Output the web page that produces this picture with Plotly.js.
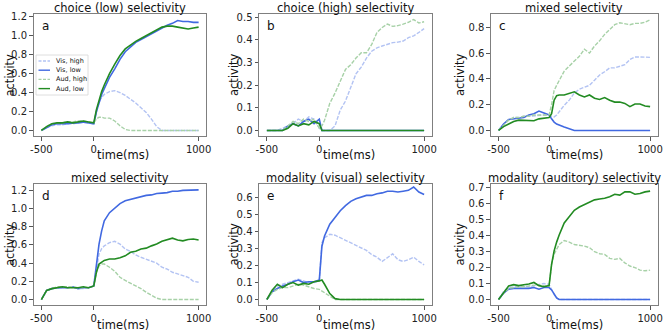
<!DOCTYPE html>
<html>
<head>
<meta charset="utf-8">
<script src="https://cdn.plot.ly/plotly-3.0.1.min.js"></script>
<style>
  body { margin: 0; background: #fff; }
  #chart { width: 665px; height: 334px; }
</style>
</head>
<body>
<div id="chart"></div>
<script>
// time axis (ms), shared by every panel
const timeMs = [-500, -450, -400, -350, -300, -250, -200, -150, -100, -50, 0, 25, 50, 75,
  100, 150, 200, 250, 300, 350, 400, 450, 500, 550, 600, 650, 700, 750, 800, 850, 900, 950, 1000];

const seriesNames = ['Vis, high', 'Vis, low', 'Aud, high', 'Aud, low'];
const xTickVals = [-500, 0, 1000];
const xTickText = ['-500', '0', '1000'];

// a: choice (low) selectivity
const visHighA = [0, 0.03, 0.05, 0.06, 0.06, 0.07, 0.07, 0.08, 0.08, 0.08, 0.07, 0.2, 0.3, 0.35,
  0.38, 0.41, 0.42, 0.4, 0.37, 0.33, 0.29, 0.24, 0.19, 0.12, 0.04, 0, 0, 0, 0, 0, 0, 0, 0];
const visLowA = [0, 0.03, 0.06, 0.07, 0.07, 0.07, 0.08, 0.08, 0.09, 0.08, 0.07, 0.2, 0.3, 0.38,
  0.44, 0.56, 0.65, 0.75, 0.83, 0.88, 0.93, 0.96, 0.99, 1.02, 1.05, 1.08, 1.11, 1.13, 1.16, 1.15, 1.15, 1.14, 1.14];
const audHighA = [0, 0.04, 0.07, 0.08, 0.08, 0.09, 0.09, 0.1, 0.1, 0.09, 0.08, 0.12, 0.14, 0.14,
  0.13, 0.13, 0.1, 0.05, 0.01, 0, 0, 0, 0, 0, 0, 0, 0, 0, 0, 0, 0, 0, 0];
const audLowA = [0, 0.04, 0.07, 0.08, 0.08, 0.09, 0.08, 0.09, 0.1, 0.09, 0.08, 0.22, 0.32, 0.41,
  0.48, 0.6, 0.7, 0.79, 0.86, 0.9, 0.94, 0.97, 1.0, 1.03, 1.06, 1.09, 1.1, 1.1, 1.09, 1.08, 1.07, 1.08, 1.09];

// b: choice (high) selectivity
const visHighB = [0, 0, 0, 0.01, 0.02, 0.03, 0.05, 0.04, 0.06, 0.05, 0.01, 0, 0, 0,
  0, 0.02, 0.09, 0.13, 0.19, 0.25, 0.28, 0.32, 0.35, 0.365, 0.373, 0.38, 0.388, 0.39, 0.395, 0.41, 0.418, 0.433, 0.45];
const visLowB = [0, 0, 0, 0, 0.02, 0.03, 0.02, 0.04, 0.05, 0.03, 0.05, 0, 0, 0,
  0, 0, 0, 0, 0, 0, 0, 0, 0, 0, 0, 0, 0, 0, 0, 0, 0, 0, 0];
const audHighB = [0, 0, 0, 0, 0.02, 0.04, 0.03, 0.05, 0.04, 0.05, 0.01, 0.02, 0.045, 0.08,
  0.12, 0.165, 0.22, 0.27, 0.29, 0.32, 0.343, 0.343, 0.38, 0.433, 0.455, 0.47, 0.46, 0.463, 0.47, 0.478, 0.49, 0.475, 0.48];
const audLowB = [0, 0, 0, 0, 0.01, 0.03, 0.02, 0.03, 0.025, 0.04, 0.03, 0, 0, 0,
  0, 0, 0, 0, 0, 0, 0, 0, 0, 0, 0, 0, 0, 0, 0, 0, 0, 0, 0];

// c: mixed selectivity
const visHighC = [0, 0.05, 0.08, 0.1, 0.1, 0.11, 0.11, 0.115, 0.12, 0.12, 0.115, 0.11, 0.105, 0.12,
  0.145, 0.195, 0.235, 0.29, 0.32, 0.335, 0.35, 0.39, 0.43, 0.455, 0.485, 0.485, 0.5, 0.51, 0.55, 0.57, 0.57, 0.57, 0.567];
const visLowC = [0, 0.05, 0.085, 0.09, 0.09, 0.1, 0.12, 0.13, 0.15, 0.135, 0.12, 0.09, 0.065, 0.05,
  0.04, 0.026, 0.013, 0, 0, 0, 0, 0, 0, 0, 0, 0, 0, 0, 0, 0, 0, 0, 0];
const audHighC = [0, 0.04, 0.08, 0.1, 0.1, 0.11, 0.11, 0.12, 0.12, 0.12, 0.12, 0.2, 0.31, 0.35,
  0.39, 0.46, 0.5, 0.535, 0.575, 0.63, 0.6, 0.655, 0.695, 0.745, 0.785, 0.82, 0.835, 0.83, 0.82, 0.83, 0.83, 0.84, 0.857];
const audLowC = [0, 0.03, 0.05, 0.07, 0.08, 0.08, 0.08, 0.075, 0.09, 0.095, 0.1, 0.13, 0.235, 0.27,
  0.275, 0.275, 0.29, 0.3, 0.275, 0.26, 0.275, 0.25, 0.24, 0.255, 0.235, 0.22, 0.22, 0.21, 0.185, 0.205, 0.205, 0.19, 0.185];

// d: mixed selectivity
const visHighD = [0, 0.1, 0.12, 0.13, 0.13, 0.14, 0.13, 0.12, 0.12, 0.13, 0.15, 0.35, 0.5, 0.56,
  0.59, 0.625, 0.64, 0.61, 0.555, 0.53, 0.49, 0.465, 0.445, 0.425, 0.4, 0.355, 0.335, 0.3, 0.28, 0.26, 0.245, 0.2, 0.19];
const visLowD = [0, 0.1, 0.12, 0.13, 0.13, 0.13, 0.14, 0.12, 0.13, 0.13, 0.15, 0.39, 0.61, 0.755,
  0.865, 0.955, 1.01, 1.055, 1.085, 1.1, 1.12, 1.13, 1.145, 1.15, 1.165, 1.17, 1.175, 1.19, 1.19, 1.2, 1.2, 1.205, 1.205];
const audHighD = [0, 0.1, 0.12, 0.14, 0.14, 0.14, 0.14, 0.13, 0.13, 0.13, 0.15, 0.3, 0.37, 0.39,
  0.39, 0.355, 0.31, 0.245, 0.21, 0.18, 0.155, 0.12, 0.08, 0.045, 0.015, 0, 0, 0, 0, 0, 0, 0, 0];
const audLowD = [0, 0.1, 0.12, 0.13, 0.14, 0.13, 0.13, 0.13, 0.14, 0.13, 0.15, 0.3, 0.39, 0.41,
  0.43, 0.445, 0.445, 0.46, 0.48, 0.52, 0.53, 0.555, 0.565, 0.59, 0.61, 0.64, 0.655, 0.675, 0.655, 0.645, 0.66, 0.665, 0.655];

// e: modality (visual) selectivity
const visHighE = [0, 0.05, 0.08, 0.09, 0.1, 0.11, 0.12, 0.11, 0.1, 0.1, 0.11, 0.335, 0.365, 0.375,
  0.385, 0.38, 0.365, 0.35, 0.335, 0.32, 0.305, 0.29, 0.265, 0.25, 0.225, 0.245, 0.27, 0.235, 0.225, 0.235, 0.25, 0.225, 0.205];
const visLowE = [0, 0.045, 0.065, 0.08, 0.09, 0.105, 0.115, 0.1, 0.105, 0.105, 0.115, 0.315, 0.375, 0.41,
  0.445, 0.485, 0.525, 0.555, 0.58, 0.595, 0.605, 0.615, 0.615, 0.625, 0.63, 0.64, 0.64, 0.635, 0.64, 0.645, 0.665, 0.635, 0.62];
const audHighE = [0, 0.04, 0.06, 0.07, 0.07, 0.08, 0.09, 0.085, 0.075, 0.065, 0.06, 0.05, 0.04, 0.03,
  0.015, 0, 0, 0, 0, 0, 0, 0, 0, 0, 0, 0, 0, 0, 0, 0, 0, 0, 0];
const audLowE = [0, 0.055, 0.09, 0.07, 0.09, 0.1, 0.085, 0.095, 0.09, 0.105, 0.11, 0.115, 0.09, 0.06,
  0.035, 0.005, 0, 0, 0, 0, 0, 0, 0, 0, 0, 0, 0, 0, 0, 0, 0, 0, 0];

// f: modality (auditory) selectivity
const visHighF = [0, 0.05, 0.075, 0.08, 0.08, 0.085, 0.08, 0.085, 0.095, 0.1, 0.095, 0.06, 0.03, 0.01,
  0, 0, 0, 0, 0, 0, 0, 0, 0, 0, 0, 0, 0, 0, 0, 0, 0, 0, 0];
const visLowF = [0, 0.04, 0.065, 0.07, 0.07, 0.07, 0.07, 0.075, 0.065, 0.075, 0.075, 0.06, 0.03, 0.01,
  0, 0, 0, 0, 0, 0, 0, 0, 0, 0, 0, 0, 0, 0, 0, 0, 0, 0, 0];
const audHighF = [0, 0.04, 0.07, 0.075, 0.08, 0.08, 0.085, 0.09, 0.09, 0.085, 0.085, 0.22, 0.285, 0.32,
  0.345, 0.37, 0.36, 0.345, 0.34, 0.335, 0.325, 0.3, 0.287, 0.283, 0.258, 0.252, 0.258, 0.23, 0.21, 0.2, 0.184, 0.18, 0.184];
const audLowF = [0, 0.045, 0.085, 0.093, 0.087, 0.093, 0.097, 0.107, 0.087, 0.08, 0.087, 0.22, 0.305, 0.36,
  0.405, 0.48, 0.52, 0.56, 0.58, 0.595, 0.615, 0.625, 0.63, 0.635, 0.645, 0.66, 0.655, 0.675, 0.675, 0.66, 0.665, 0.675, 0.68];

const panelTitles = ['choice (low) selectivity', 'choice (high) selectivity', 'mixed selectivity',
  'mixed selectivity', 'modality (visual) selectivity', 'modality (auditory) selectivity'];
const panelLetters = ['a', 'b', 'c', 'd', 'e', 'f'];
const panelSeries = [
  [visHighA, visLowA, audHighA, audLowA],
  [visHighB, visLowB, audHighB, audLowB],
  [visHighC, visLowC, audHighC, audLowC],
  [visHighD, visLowD, audHighD, audLowD],
  [visHighE, visLowE, audHighE, audLowE],
  [visHighF, visLowF, audHighF, audLowF]
];

// styling
const W = 665, H = 334;
const FONT = 'DejaVu Sans, sans-serif';
const lineColors = ['#b3c3f3', '#4169e1', '#a7d1a7', '#228b22'];
const lineDash = ['4px,1.5px', 'solid', '4px,1.5px', 'solid'];
const lineWidths = [1.4, 1.6, 1.4, 1.6];
const colDomains = [[0.0504, 0.3105], [0.3895, 0.6496], [0.7383, 0.989]];
const rowDomains = [[0.5928, 0.9581], [0.0868, 0.4491]];
const titleCentersPx = [8, 178];      // panel title rows
const xTitleCentersPx = [155, 325];   // "time(ms)" rows
const yTitleCentersPx = [9.5, 234, 460]; // "activity" columns
const yRanges = [[-0.0585, 1.2285], [-0.0245, 0.5145], [-0.043, 0.903],
                 [-0.06, 1.27], [-0.0325, 0.6825], [-0.0345, 0.7245]];
const yDticks = [0.2, 0.1, 0.2, 0.2, 0.1, 0.1];

const px = x => x / W;
const py = y => 1 - y / H;

const data = [];
const layout = {
  width: W, height: H,
  margin: {l: 0, r: 0, t: 0, b: 0},
  paper_bgcolor: '#fff', plot_bgcolor: '#fff',
  font: {family: FONT, size: 10, color: '#222'},
  showlegend: false,
  annotations: [],
  shapes: []
};

const labelFont = {family: FONT, size: 11.5, color: '#111'};

panelSeries.forEach((series, p) => {
  const n = p + 1;
  const sfx = n === 1 ? '' : String(n);
  const col = p % 3, row = Math.floor(p / 3);
  const xd = colDomains[col], yd = rowDomains[row];

  series.forEach((vals, s) => {
    data.push({
      x: timeMs, y: vals,
      type: 'scatter', mode: 'lines',
      name: seriesNames[s],
      xaxis: 'x' + sfx, yaxis: 'y' + sfx,
      line: {color: lineColors[s], width: lineWidths[s], dash: lineDash[s]},
      hoverinfo: 'skip'
    });
  });

  const common = {
    showline: true, mirror: true, linecolor: '#7f7f7f', linewidth: 1,
    showgrid: false, zeroline: false,
    ticks: 'outside', ticklen: 3.5, tickwidth: 1, tickcolor: '#555',
    tickfont: {family: FONT, size: 10, color: '#222'}
  };
  layout['xaxis' + sfx] = Object.assign({}, common, {
    domain: xd, range: [-575, 1075], anchor: 'y' + sfx,
    tickvals: xTickVals, ticktext: xTickText
  });
  layout['yaxis' + sfx] = Object.assign({}, common, {
    domain: yd, range: yRanges[p], anchor: 'x' + sfx,
    dtick: yDticks[p], tick0: 0, tickformat: '.1f'
  });

  // axis titles
  layout.annotations.push({
    text: 'time(ms)', xref: 'paper', yref: 'paper',
    x: (xd[0] + xd[1]) / 2, y: py(xTitleCentersPx[row]), xshift: 3,
    xanchor: 'center', yanchor: 'middle', borderpad: 0,
    showarrow: false, font: labelFont
  });
  layout.annotations.push({
    text: 'activity', xref: 'paper', yref: 'paper', textangle: -90,
    x: px(yTitleCentersPx[col]), y: (yd[0] + yd[1]) / 2,
    xanchor: 'center', yanchor: 'middle', borderpad: 0,
    showarrow: false, font: labelFont
  });

  // panel title and letter
  layout.annotations.push({
    text: panelTitles[p], xref: 'paper', yref: 'paper',
    x: (xd[0] + xd[1]) / 2, y: py(titleCentersPx[row]),
    xanchor: 'center', yanchor: 'middle', borderpad: 0,
    showarrow: false, font: labelFont
  });
  layout.annotations.push({
    text: panelLetters[p], xref: 'paper', yref: 'paper',
    x: xd[0], y: yd[1], xanchor: 'left', yanchor: 'top', xshift: 6, yshift: -3,
    showarrow: false, font: {family: FONT, size: 12, color: '#111'}
  });
});

// legend drawn inside panel a
layout.shapes.push({
  type: 'rect', xref: 'paper', yref: 'paper', layer: 'above',
  x0: px(36), x1: px(88), y0: py(55), y1: py(95),
  line: {color: '#d6d6d6', width: 0.8}, fillcolor: 'rgba(255,255,255,0.85)'
});
seriesNames.forEach((name, s) => {
  const yy = py(61 + s * 9.2);
  layout.shapes.push({
    type: 'line', xref: 'paper', yref: 'paper', layer: 'above',
    x0: px(38.5), x1: px(50), y0: yy, y1: yy,
    line: {color: lineColors[s], width: 1.4, dash: s % 2 === 0 ? '3px,1.5px' : 'solid'}
  });
  layout.annotations.push({
    text: name, xref: 'paper', yref: 'paper', x: px(54), y: yy,
    xanchor: 'left', yanchor: 'middle', showarrow: false,
    font: {family: FONT, size: 6.5, color: '#111'}
  });
});

Plotly.newPlot('chart', data, layout, {staticPlot: true, displayModeBar: false});
</script>
</body>
</html>
